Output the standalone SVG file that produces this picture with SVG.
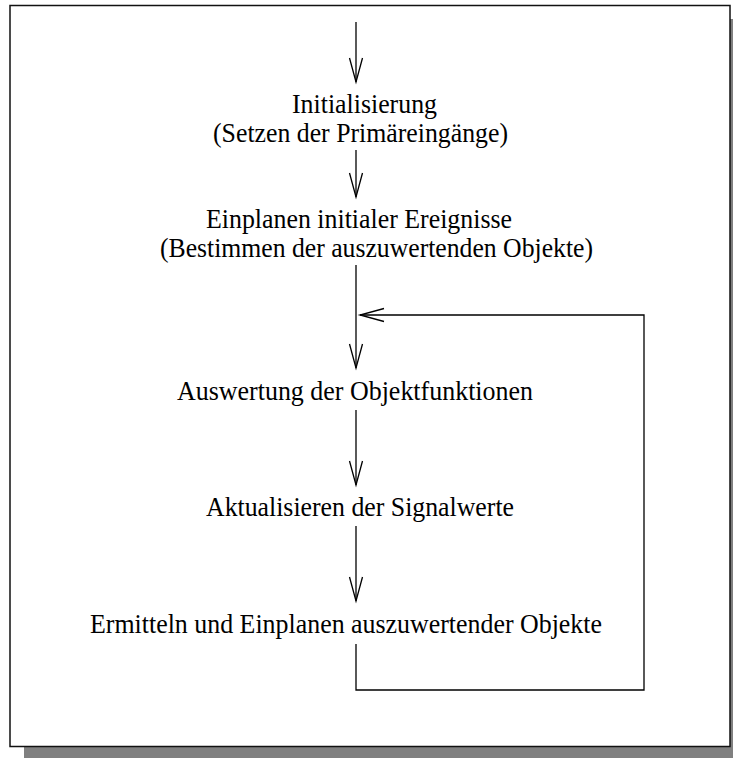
<svg xmlns="http://www.w3.org/2000/svg" width="733" height="758" viewBox="0 0 733 758">
  <style>
    .lbl { font-family: "Liberation Serif", "Times New Roman", serif; font-size: 26.6px; fill: #000; }
    .wire { fill: none; stroke: #000; stroke-width: 1.3; }
  </style>
  <defs>
    <marker id="vhead" markerUnits="userSpaceOnUse" markerWidth="30" markerHeight="20" viewBox="-26 -10 30 20" refX="0" refY="0" orient="auto" overflow="visible">
      <path d="M-24,-6.5 L0,0 L-24,6.5" fill="none" stroke="#000" stroke-width="1.3"/>
    </marker>
  </defs>

  <!-- page frame with drop shadow -->
  <rect x="24" y="19" width="720" height="742" fill="#808080"/>
  <rect x="10" y="5.5" width="720" height="741" fill="#fff" stroke="#111" stroke-width="1.5"/>

  <g id="connectors">
    <line class="wire" x1="356" y1="22" x2="356" y2="82" marker-end="url(#vhead)"/>
    <line class="wire" x1="356" y1="150" x2="356" y2="197" marker-end="url(#vhead)"/>
    <line class="wire" x1="356" y1="265" x2="356" y2="368" marker-end="url(#vhead)"/>
    <line class="wire" x1="356" y1="410" x2="356" y2="485" marker-end="url(#vhead)"/>
    <line class="wire" x1="356" y1="526" x2="356" y2="601" marker-end="url(#vhead)"/>
    <polyline class="wire" points="356,644 356,690 644,690 644,315 360,315" marker-end="url(#vhead)"/>
  </g>

  <g id="init">
    <text class="lbl" x="292" y="113" textLength="145" lengthAdjust="spacingAndGlyphs">Initialisierung</text>
    <text class="lbl" x="213" y="142" textLength="295" lengthAdjust="spacingAndGlyphs">(Setzen der Primäreingänge)</text>
  </g>
  <g id="schedule-initial">
    <text class="lbl" x="206" y="228" textLength="306" lengthAdjust="spacingAndGlyphs">Einplanen initialer Ereignisse</text>
    <text class="lbl" x="160" y="257" textLength="433" lengthAdjust="spacingAndGlyphs">(Bestimmen der auszuwertenden Objekte)</text>
  </g>
  <g id="evaluate">
    <text class="lbl" x="177" y="400" textLength="356" lengthAdjust="spacingAndGlyphs">Auswertung der Objektfunktionen</text>
  </g>
  <g id="update">
    <text class="lbl" x="206" y="516" textLength="308" lengthAdjust="spacingAndGlyphs">Aktualisieren der Signalwerte</text>
  </g>
  <g id="schedule-next">
    <text class="lbl" x="90" y="633" textLength="512" lengthAdjust="spacingAndGlyphs">Ermitteln und Einplanen auszuwertender Objekte</text>
  </g>
</svg>
